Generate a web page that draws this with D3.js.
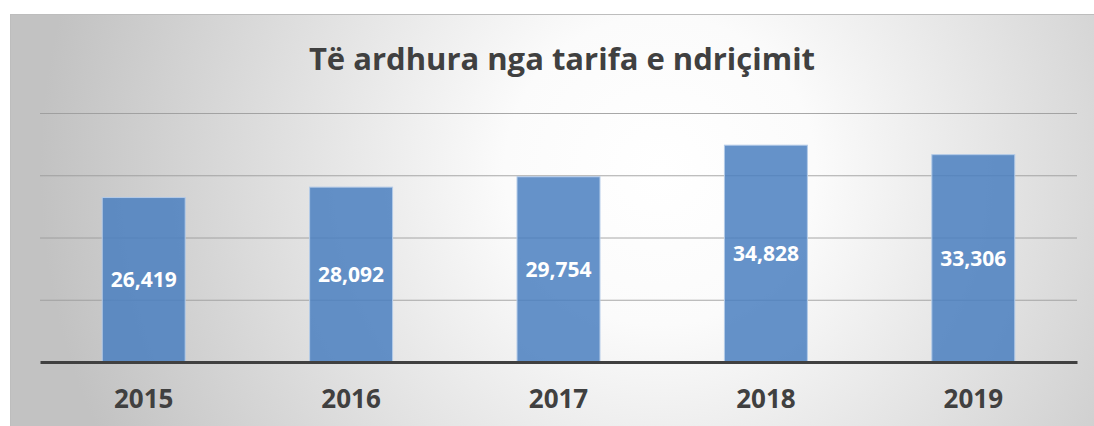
<!DOCTYPE html>
<html lang="en">
<head>
    <meta charset="utf-8">
    <title>Të ardhura nga tarifa e ndriçimit</title>
    <script type="text/javascript" src="https://d3js.org/d3.v7.min.js"></script>
    <style type="text/css">
        body {
            margin: 0;
            background-color: white;
        }
    </style>
</head>
<body>
    <div id="graph"></div>
    <script type="text/javascript">

        // data
        var years = ["2015", "2016", "2017", "2018", "2019"];
        var revenue = [26419, 28092, 29754, 34828, 33306];
        var gridTicks = [10000, 20000, 30000, 40000];

        var data = years.map(function (y, i) { return { year: y, value: revenue[i] }; });

        var W = 1094, H = 426;
        var margin = { top: 113, right: 17, bottom: 64, left: 40 },
            width = W - margin.left - margin.right,
            height = H - margin.top - margin.bottom;

        var svg = d3.select("#graph")
            .append("svg")
            .attr("width", W)
            .attr("height", H);

        // radial background
        var defs = svg.append("defs");
        var grad = defs.append("radialGradient")
            .attr("id", "bg")
            .attr("gradientUnits", "userSpaceOnUse")
            .attr("cx", 660).attr("cy", 170).attr("r", 620);
        grad.append("stop").attr("offset", "0%").attr("stop-color", "#ffffff");
        grad.append("stop").attr("offset", "25%").attr("stop-color", "#fbfbfb");
        grad.append("stop").attr("offset", "100%").attr("stop-color", "#c2c2c2");

        svg.append("rect")
            .attr("x", 10).attr("y", 14)
            .attr("width", W - 10).attr("height", H - 14)
            .attr("fill", "url(#bg)");
        svg.append("line")
            .attr("x1", 10).attr("x2", W)
            .attr("y1", 14.5).attr("y2", 14.5)
            .attr("stroke", "#bdbdbd").attr("stroke-width", 1);
        svg.append("line")
            .attr("x1", 10.5).attr("x2", 10.5)
            .attr("y1", 14).attr("y2", H)
            .attr("stroke", "#bdbdbd").attr("stroke-width", 1);

        // title
        svg.append("text")
            .attr("x", 562)
            .attr("y", 70)
            .attr("text-anchor", "middle")
            .style("font-family", "'Open Sans', sans-serif")
            .style("font-weight", "bold")
            .style("font-size", "31px")
            .style("fill", "#404040")
            .text("Të ardhura nga tarifa e ndriçimit");

        var g = svg.append("g")
            .attr("transform", `translate(${margin.left}, ${margin.top})`);

        var x = d3.scaleBand()
            .domain(years)
            .range([0, width])
            .paddingInner(0.6)
            .paddingOuter(0.3);

        var y = d3.scaleLinear()
            .domain([0, 40000])
            .range([height, 0]);

        // gridlines
        g.append("g")
            .call(d3.axisLeft(y).tickValues(gridTicks).tickSize(-width).tickFormat(""))
            .call(function (ax) {
                ax.select(".domain").remove();
                ax.selectAll(".tick line")
                    .attr("stroke", "#999999")
                    .attr("stroke-opacity", 0.85);
            });

        // bars
        g.selectAll(".bar")
            .data(data)
            .enter()
            .append("rect")
            .attr("class", "bar")
            .attr("x", function (d) { return x(d.year); })
            .attr("width", x.bandwidth())
            .attr("y", function (d) { return y(d.value); })
            .attr("height", function (d) { return height - y(d.value); })
            .attr("fill", "#4a7fc0")
            .attr("fill-opacity", 0.85)
            .attr("stroke", "#b4cbe8")
            .attr("stroke-width", 1);

        // value labels
        g.selectAll(".val")
            .data(data)
            .enter()
            .append("text")
            .attr("class", "val")
            .attr("x", function (d) { return x(d.year) + x.bandwidth() / 2; })
            .attr("y", function (d) { return (y(d.value) + height) / 2; })
            .attr("dy", "0.35em")
            .attr("text-anchor", "middle")
            .style("font-family", "'Open Sans', sans-serif")
            .style("font-weight", "bold")
            .style("font-size", "21px")
            .style("fill", "white")
            .text(function (d) { return d3.format(",")(d.value); });

        // x axis
        g.append("g")
            .attr("transform", `translate(0, ${height})`)
            .call(d3.axisBottom(x).tickSize(0).tickPadding(28))
            .call(function (ax) {
                ax.select(".domain")
                    .attr("stroke", "#404040")
                    .attr("stroke-width", 3);
                ax.selectAll("text")
                    .style("font-family", "'Open Sans', sans-serif")
                    .style("font-weight", "bold")
                    .style("font-size", "26px")
                    .style("fill", "#404040");
            });

    </script>
</body>
</html>
